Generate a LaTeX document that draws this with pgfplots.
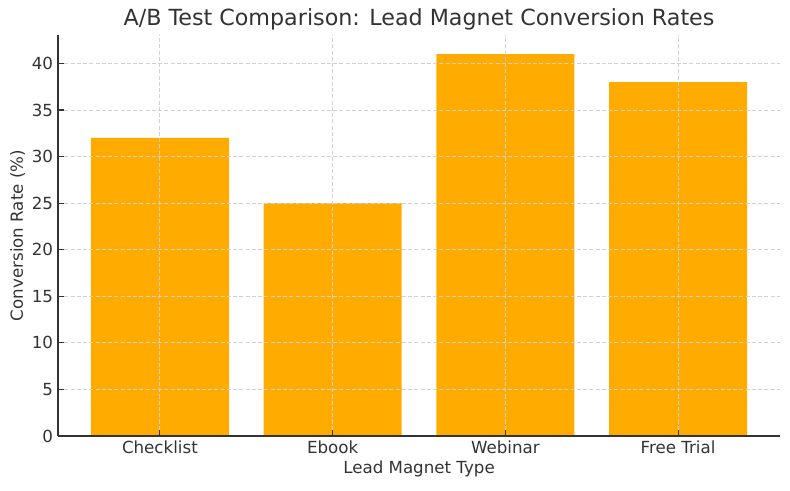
\documentclass[border=0pt]{standalone}
\usepackage{pgfplots}
\pgfplotsset{compat=1.18}
\usepackage{fontspec}
\setmainfont{DejaVu Sans}
\definecolor{barc}{HTML}{FFAB00}
\definecolor{txt}{HTML}{333333}
\begin{document}
\begin{tikzpicture}
\useasboundingbox (-41.76pt,-38.88pt) rectangle (527.04pt,313.92pt);
\begin{axis}[
  scale only axis,
  width=519.84pt, height=288.72pt,
  xmin=-0.59, xmax=3.59,
  ymin=0, ymax=43.05,
  xtick={0,1,2,3},
  xticklabels={Checklist,Ebook,Webinar,Free Trial},
  ytick={0,5,10,15,20,25,30,35,40},
  axis x line*=bottom, axis y line*=left,
  axis line style={draw=black!80, line width=0.9pt, -},
  tick style={draw=black!80, line width=0.8pt},
  tick align=inside,
  major tick length=4pt,
  grid=major,
  grid style={dash pattern=on 3pt off 1.5pt, draw=black!18, line width=0.6pt},
  axis on top,
  ticklabel style={font=\fontsize{12}{14}\selectfont, text=txt},
  /pgf/number format/assume math mode=true,
  xlabel={Lead Magnet Type},
  ylabel={Conversion Rate (\%)},
  label style={font=\fontsize{12}{14}\selectfont, text=txt},
  title={A/B Test Comparison: Lead Magnet Conversion Rates},
  title style={font=\fontsize{16}{19}\selectfont, text=txt, at={(0.5,1)}, anchor=base, yshift=1pt},
  xlabel style={yshift=2pt},
  ylabel style={yshift=-2pt},
]
\addplot[ybar, bar width=0.8, fill=barc, draw=none, bar shift=0pt] coordinates {(0,32) (1,25) (2,41) (3,38)};
\end{axis}
\end{tikzpicture}
\end{document}
